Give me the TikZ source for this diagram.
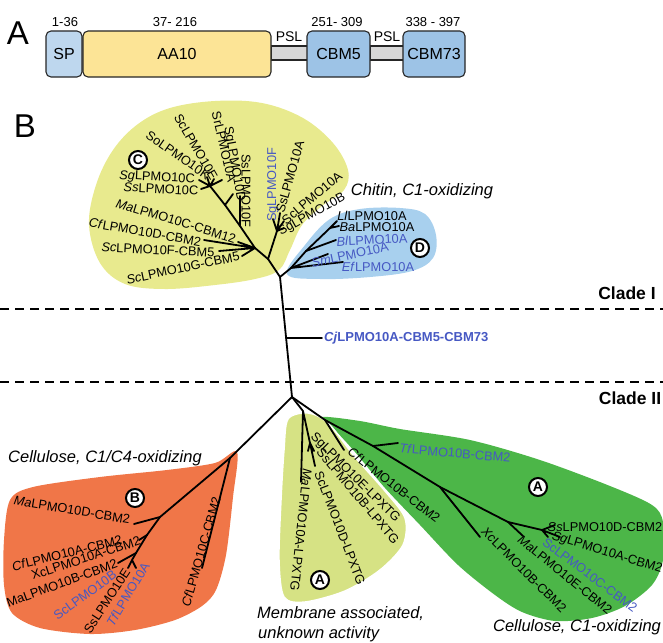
\documentclass[tikz,border=0pt]{standalone}
\usepackage{fontspec}
\setmainfont{Liberation Sans}
\definecolor{cyel}{RGB}{232,234,142}
\definecolor{cblu}{RGB}{168,208,238}
\definecolor{cora}{RGB}{240,118,72}
\definecolor{cgrn}{RGB}{76,182,72}
\definecolor{clgr}{RGB}{214,226,132}
\definecolor{lblue}{RGB}{70,88,195}
\definecolor{spbox}{RGB}{190,215,238}
\definecolor{aabox}{RGB}{252,228,150}
\definecolor{cbmbox}{RGB}{157,195,230}
\definecolor{pslbar}{RGB}{215,215,215}
\newcommand{\spc}[1]{\textit{#1}}
\begin{document}
\begin{tikzpicture}[x=1pt,y=-1pt,
  tree/.style={line width=1.8pt, line cap=round, line join=round},
  leaf/.style={font=\fontsize{12.8}{14}\selectfont, inner sep=0pt},
  bleaf/.style={leaf, text=lblue},
  capt/.style={font=\fontsize{16.5}{18}\selectfont\itshape, inner sep=0pt},
  clade/.style={font=\fontsize{17.5}{20}\selectfont\bfseries, inner sep=0pt},
  badge/.style={circle, draw, line width=2pt, fill=white, inner sep=0pt, minimum size=18pt, font=\fontsize{14}{14}\selectfont\bfseries},
  dom/.style={draw=black!85, line width=1.1pt, rounded corners=5pt, minimum height=46pt, font=\fontsize{16}{18}\selectfont},
  psl/.style={draw=black!85, line width=1.1pt, fill=pslbar, minimum height=14pt},
  num/.style={font=\fontsize{13}{15}\selectfont, inner sep=0pt},
  panel/.style={font=\fontsize{33}{36}\selectfont, inner sep=0pt},
  sepline/.style={line width=1.5pt, dash pattern=on 9pt off 6pt}]
\useasboundingbox (0,0) rectangle (663,642);

% ---------------- Panel A ----------------
\node[panel] (pa) at (18,33) {A};
\node[psl, minimum width=37pt] (psl1) at (289.5,53) {};
\node[psl, minimum width=34pt] (psl2) at (387,53) {};
\node[dom, fill=spbox, minimum width=36pt] (sp) at (64,54) {SP};
\node[dom, fill=aabox, minimum width=188pt] (aa) at (177,54) {AA10};
\node[dom, fill=cbmbox, minimum width=63pt] (cbm5) at (338.5,54) {CBM5};
\node[dom, fill=cbmbox, minimum width=62pt] (cbm73) at (434,54) {CBM73};
\node[num] (n1) at (65,22) {1-36};
\node[num] (n2) at (175,22) {37- 216};
\node[num] (n3) at (337,22) {251- 309};
\node[num] (n4) at (433,22) {338 - 397};
\node[font=\fontsize{14}{16}\selectfont, inner sep=0pt] (p1) at (289,37) {PSL};
\node[font=\fontsize{14}{16}\selectfont, inner sep=0pt] (p2) at (387,37) {PSL};

% ---------------- Panel B ----------------
\node[panel] (pb) at (25,126) {B};

% regions
\fill[cyel] plot[smooth cycle, tension=0.6] coordinates {(279,270) (255,279) (215,285) (165,289) (125,284) (100,263) (89,225) (96,185) (113,150) (138,124) (170,108) (215,101) (262,103) (303,118) (333,143) (348,170) (344,190) (322,206) (302,225) (290,250)};
\fill[cblu] plot[smooth cycle, tension=0.6] coordinates {(287,274) (305,245) (330,219) (360,209) (400,208) (425,214) (436,235) (433,258) (412,271) (370,277) (320,279)};
\fill[cora] plot[smooth cycle, tension=0.5] coordinates {(237,452) (215,463) (167,470) (100,477) (33,487) (10,500) (4,540) (4,585) (12,613) (40,628) (90,634) (135,630) (175,620) (202,606) (216,590) (226,555) (233,497)};
\fill[cgrn] plot[smooth cycle, tension=0.5] coordinates {(322,417) (360,421) (400,429) (470,440) (540,460) (610,486) (652,505) (663,522) (663,560) (652,585) (625,606) (592,618) (555,621) (522,612) (495,595) (458,565) (420,525) (385,488) (355,452) (333,428)};
\filldraw[fill=clgr, draw=white, line width=1.5pt] plot[smooth cycle, tension=0.5] coordinates {(288,419) (308,413) (328,423) (355,457) (385,491) (405,518) (403,545) (380,570) (345,591) (305,602) (284,597) (279,560) (281,500) (284,450)};

% separators
\coordinate (s1a) at (0,309); \coordinate (s1b) at (663,309);
\coordinate (s2a) at (0,382); \coordinate (s2b) at (663,382);
\draw[sepline] (s1a) -- (s1b);
\draw[sepline] (s2a) -- (s2b);
\node[clade] (cl1) at (627,293) {Clade I};
\node[clade] (cl2) at (630,398) {Clade II};

% ---- tree coordinates ----
\coordinate (T) at (280,277);
\coordinate (R0) at (292,397);
\coordinate (cjj) at (286,338);
\coordinate (cje) at (322,338);
% clade C
\coordinate (c0) at (268,259);
\coordinate (c1) at (255,248);
\coordinate (c3) at (240,226);
\coordinate (c4) at (225,205);
\coordinate (c5) at (210,186);
\coordinate (cF) at (277,231);
\coordinate (lSgF) at (273,219);
\coordinate (lSsA) at (280,213);
\coordinate (lScA) at (284,221);
\coordinate (lSgB) at (284,228);
\coordinate (lMaC) at (238,242);
\coordinate (lCfD) at (204,240);
\coordinate (lScF) at (219,251);
\coordinate (lScG) at (242,256);
\coordinate (lSsF) at (240,196);
\coordinate (lSgD) at (233,194);
\coordinate (lSgC) at (199,180);
\coordinate (lSsC) at (201,189);
\coordinate (lSoK) at (207,177);
\coordinate (lScE) at (214,179);
\coordinate (lSrA) at (222,180);
% clade D
\coordinate (dj) at (291,268);
\coordinate (d1) at (306,251);
\coordinate (d2) at (330,228);
\coordinate (lLl) at (337,221);
\coordinate (lBa) at (339,226);
\coordinate (lBl) at (336,240);
\coordinate (lSm) at (328,254);
\coordinate (lEf) at (343,262);
% clade B
\coordinate (b0) at (230,458);
\coordinate (b1) at (160,517);
\coordinate (b2) at (147,535);
\coordinate (b3) at (136,553);
\coordinate (b4) at (132,560);
\coordinate (lCfC) at (202,568);
\coordinate (lMaD) at (134,524);
\coordinate (lXcA) at (139,540);
\coordinate (lMaB) at (118,563);
\coordinate (lSsE) at (128,568);
\coordinate (lTfA) at (136,568);
% membrane
\coordinate (m0) at (303,411);
\coordinate (m1) at (310,443);
\coordinate (lMaA) at (301,482);
\coordinate (lScD) at (315,466);
\coordinate (lSgE) at (308,451);
\coordinate (lSsB) at (314,451);
% green A
\coordinate (g0) at (325,420);
\coordinate (g1) at (373,446);
\coordinate (g2) at (440,487);
\coordinate (g3) at (508,522);
\coordinate (g4) at (542,530);
\coordinate (lCfB) at (344,450);
\coordinate (lTfB) at (398,443);
\coordinate (lXcB) at (480,537);
\coordinate (lMaE) at (523,536);
\coordinate (lSsD) at (555,525);
\coordinate (lSgA) at (560,537);
\coordinate (lScC) at (548,537);

% ---- tree lines ----
\draw[tree] (T) -- (R0);
\draw[tree] (cjj) -- (cje);
\draw[tree] (T) -- (c0) -- (c1) -- (c3) -- (c4) -- (c5);
\draw[tree] (c0) -- (cF);
\draw[tree] (cF) -- (lSgF) (cF) -- (lSsA) (cF) -- (lScA) (cF) -- (lSgB);
\draw[tree] (c1) -- (lMaC) (c1) -- (lCfD) (c1) -- (lScF) (c1) -- (lScG);
\draw[tree] (c3) -- (lSsF) (c4) -- (lSgD);
\draw[tree] (c5) -- (lSgC) (c5) -- (lSsC) (c5) -- (lSoK) (c5) -- (lScE) (c5) -- (lSrA);
\draw[tree] (T) -- (dj) -- (d1) -- (d2);
\draw[tree] (d2) -- (lLl) (d2) -- (lBa) (d1) -- (lBl) (dj) -- (lSm) (dj) -- (lEf);
\draw[tree] (R0) -- (b0) -- (lCfC);
\draw[tree] (b0) -- (b1) -- (lMaD);
\draw[tree] (b1) -- (b2) -- (lXcA);
\draw[tree] (b2) -- (b3) -- (lMaB);
\draw[tree] (b3) -- (b4) -- (lSsE) (b4) -- (lTfA);
\draw[tree] (R0) -- (m0) -- (lMaA) (m0) -- (lScD) (m0) -- (m1) -- (lSgE) (m1) -- (lSsB);
\draw[tree] (R0) -- (g0) -- (lCfB);
\draw[tree] (g0) -- (g1) -- (lTfB);
\draw[tree] (g1) -- (g2) -- (lXcB);
\draw[tree] (g2) -- (g3) -- (lMaE);
\draw[tree] (g3) -- (g4) -- (lSsD) (g4) -- (lSgA) (g4) -- (lScC);

% ---- labels ----
\node[font=\fontsize{13}{15}\selectfont\bfseries, text=lblue, anchor=west, inner sep=0pt] (cj) at (324,338) {\spc{Cj}LPMO10A-CBM5-CBM73};
% clade C
\node[leaf, rotate=-3] (tSgC) at (157,178) {\spc{Sg}LPMO10C};
\node[leaf, rotate=-3] (tSsC) at (161,189) {\spc{Ss}LPMO10C};
\node[leaf, rotate=-17] (tMaC) at (176,221) {\spc{Ma}LPMO10C-CBM12};
\node[leaf, rotate=-10] (tCfD) at (145,232) {\spc{Cf}LPMO10D-CBM2};
\node[leaf, rotate=-3] (tScF) at (158,250) {\spc{Sc}LPMO10F-CBM5};
\node[leaf, rotate=12] (tScG) at (183,268) {\spc{Sc}LPMO10G-CBM5};
\node[leaf, rotate=-35] (tSoK) at (178,155) {SoLPMO10K};
\node[leaf, rotate=-60] (tScE) at (196,147) {ScLPMO10E};
\node[leaf, rotate=-77] (tSrA) at (224,147) {SrLPMO10A};
\node[leaf, rotate=-80] (tSgD) at (234,164) {SgLPMO10D};
\node[leaf, rotate=-90] (tSsF) at (246,191) {SsLPMO10F};
\node[bleaf, rotate=90] (tSgF) at (273,185) {SgLPMO10F};
\node[leaf, rotate=74] (tSsA) at (290,177) {SsLPMO10A};
\node[leaf, rotate=40] (tScA) at (312,198) {ScLPMO10A};
\node[leaf, rotate=29] (tSgB) at (312,215) {SgLPMO10B};
\node[badge] (bC) at (138,160) {C};
\node[capt] (chit) at (422,191) {Chitin, C1-oxidizing};
% clade D
\node[leaf] (tLl) at (372,216) {\spc{Ll}LPMO10A};
\node[leaf] (tBa) at (377,227) {\spc{Ba}LPMO10A};
\node[bleaf, rotate=3] (tBl) at (372,240) {\spc{Bl}LPMO10A};
\node[bleaf, rotate=12] (tSm) at (350,255) {\spc{Sm}LPMO10A};
\node[bleaf] (tEf) at (378,267) {\spc{Ef}LPMO10A};
\node[badge] (bD) at (420,248) {D};
% clade B
\node[capt] (cell1) at (105,458) {Cellulose, C1/C4-oxidizing};
\node[badge] (bB) at (135,498) {B};
\node[leaf, rotate=-9.5] (tMaD) at (72,510) {\spc{Ma}LPMO10D-CBM2};
\node[leaf, rotate=14] (tCfA) at (67,553) {\spc{Cf}LPMO10A-CBM2};
\node[leaf, rotate=18] (tXcA) at (86,558) {XcLPMO10A-CBM2};
\node[leaf, rotate=20] (tMaB) at (62,583) {MaLPMO10B-CBM2};
\node[bleaf, rotate=36] (tScB) at (85,595) {ScLPMO10B};
\node[leaf, rotate=57] (tSsE) at (107,601) {SsLPMO10E};
\node[bleaf, rotate=59] (tTfA) at (128,594) {\spc{Tf}LPMO10A};
\node[leaf, rotate=74] (tCfC) at (201,552) {\spc{Cf}LPMO10C-CBM2};
% membrane
\node[leaf, rotate=-45] (tSgE) at (355,478) {SgLPMO10E-LPXTG};
\node[leaf, rotate=-50] (tSsB) at (358,496) {SsLPMO10B-LPXTG};
\node[leaf, rotate=-69] (tScD) at (340,528) {ScLPMO10D-LPXTG};
\node[leaf, rotate=-96] (tMaA) at (301,530) {\spc{Ma}LPMO10A-LPXTG};
\node[badge] (bA1) at (320,580) {A};
\node[capt, anchor=west] (mem1) at (257,614) {Membrane associated,};
\node[capt, anchor=west] (mem2) at (258,634) {unknown activity};
% green A
\node[bleaf, rotate=-5] (tTfB) at (455,453) {\spc{Tf}LPMO10B-CBM2};
\node[leaf, rotate=-38] (tCfB) at (394,485) {\spc{Cf}LPMO10B-CBM2};
\node[leaf, rotate=-45] (tXcB) at (524,570) {\spc{Xc}LPMO10B-CBM2};
\node[leaf, rotate=-39] (tMaE) at (565,575) {\spc{Ma}LPMO10E-CBM2};
\node[bleaf, rotate=-37] (tScC) at (590,575) {ScLPMO10C-CBM2};
\node[leaf] (tSsD) at (605,527) {\spc{Ss}LPMO10D-CBM2};
\node[leaf, rotate=-17] (tSgA) at (607,553) {\spc{Sg}LPMO10A-CBM2};
\node[badge] (bA2) at (538,487) {A};
\node[capt] (cell2) at (577,627) {Cellulose, C1-oxidizing};
\end{tikzpicture}
\end{document}
